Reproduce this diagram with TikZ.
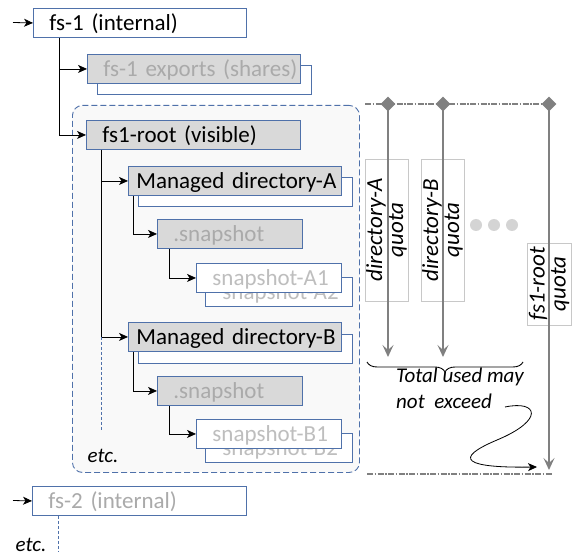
\documentclass[tikz,border=0pt]{standalone}
\usepackage{fontspec}
\setmainfont{Carlito}
\usetikzlibrary{arrows.meta,shapes.geometric,decorations.pathreplacing,calc}
\definecolor{boxblue}{RGB}{79,113,170}
\definecolor{boxgray}{RGB}{217,217,217}
\definecolor{txtgray}{RGB}{170,170,170}
\definecolor{txtlight}{RGB}{190,190,190}
\definecolor{qgray}{RGB}{128,128,128}
\definecolor{qborder}{RGB}{200,200,200}
\definecolor{contfill}{RGB}{249,249,249}
\definecolor{dotgray}{RGB}{212,212,212}
\begin{document}
\begin{tikzpicture}[x=1pt,y=-1pt,
  tbox/.style={draw=boxblue, line width=0.9pt, anchor=north west, minimum height=29pt,
    inner xsep=16pt, inner ysep=0pt, text height=16pt, text depth=0pt, align=left,
    font=\fontsize{23}{27}\selectfont},
  shadowbox/.style={tbox, fill=white},
  conn/.style={draw=black, line width=0.8pt, -{Stealth[length=9pt,width=8pt,inset=2.5pt]}},
  bluedash/.style={draw=boxblue, line width=0.8pt, dash pattern=on 3pt off 2pt},
  dd/.style={draw=qgray, line width=1.2pt, dash pattern=on 6pt off 1.5pt on 1.5pt off 1.5pt},
  qarr/.style={draw=qgray, line width=1.4pt, -{Stealth[length=12pt,width=11pt,inset=5pt]}},
  dia/.style={diamond, fill=qgray, minimum size=15pt, inner sep=0pt},
  qbox/.style={draw=qborder, line width=0.8pt, rotate=90, align=center, inner sep=0pt,
    font=\fontsize{23}{21}\selectfont\itshape},
  dotn/.style={circle, fill=dotgray, minimum size=12pt, inner sep=0pt},
  etcn/.style={inner sep=0pt, font=\fontsize{21}{25}\selectfont\itshape}
]
\useasboundingbox (0,0) rectangle (576,556);

% container
\node[draw=boxblue, line width=0.9pt, dash pattern=on 6pt off 3pt, rounded corners=10pt,
  fill=contfill, anchor=north west, minimum width=287pt, minimum height=367pt, inner sep=0pt]
  (cont) at (72,105) {};

% boxes
\node[tbox, text width=181pt] (fs1) at (33,8) {fs-1 (internal)};
\node[shadowbox, text width=182pt] (expS) at (97,65) {};
\node[tbox, fill=boxgray, text=txtgray, text width=181pt] (exp) at (87,54) {\mbox{fs-1 exports (shares)}};
\node[tbox, fill=boxgray, text width=182pt] (root) at (86,120) {fs1-root (visible)};

\node[shadowbox, text width=182pt] (mAS) at (138,177) {};
\node[tbox, fill=boxgray, inner xsep=8pt, text width=197pt] (mA) at (128,166) {\mbox{Managed directory-A}};
\node[tbox, fill=boxgray, text=txtgray, text width=113pt] (snapA) at (157,219) {.snapshot};
\node[shadowbox, text=txtlight, inner xsep=17pt, text width=113pt] (A2) at (205,277) {\mbox{snapshot-A2}};
\node[tbox, fill=white, text=txtlight, text width=113pt] (A1) at (196,263) {\mbox{snapshot-A1}};

\node[shadowbox, text width=182pt] (mBS) at (138,334) {};
\node[tbox, fill=boxgray, inner xsep=8pt, text width=197pt] (mB) at (128,322) {\mbox{Managed directory-B}};
\node[tbox, fill=boxgray, text=txtgray, text width=113pt] (snapB) at (157,376) {.snapshot};
\node[shadowbox, text=txtlight, inner xsep=17pt, text width=113pt] (B2) at (205,433) {\mbox{snapshot-B2}};
\node[tbox, fill=white, text=txtlight, text width=113pt] (B1) at (196,419) {\mbox{snapshot-B1}};

\node[tbox, fill=white, text=txtgray, text width=182pt] (fs2) at (32,486) {fs-2 (internal)};

\node[etcn] (etc1) at (103,456) {etc.};
\node[etcn] (etc2) at (31,545) {etc.};

% tree connectors
\coordinate (in1) at (13,22.5);
\coordinate (in2) at (13,500.5);
\draw[conn] (in1) -- (fs1.west);
\draw[conn] (in2) -- (fs2.west);
\draw[conn] ([xshift=26pt]fs1.south west) |- (exp.west);
\draw[conn] ([xshift=26pt]fs1.south west) |- (root.west);
\draw[conn] ([xshift=15pt]root.south west) |- (mA.west);
\draw[conn] ([xshift=15pt]root.south west) |- (mB.west);
\coordinate (rootend) at (101,431);
\draw[bluedash] (mB.west -| rootend) -- (rootend);
\draw[conn] ([xshift=5pt]mA.south west) |- (snapA.west);
\draw[conn] ([xshift=12pt]snapA.south west) |- (A1.west);
\draw[conn] ([xshift=5pt]mB.south west) |- (snapB.west);
\draw[conn] ([xshift=12pt]snapB.south west) |- (B1.west);
\coordinate (fs2end) at (58,552);
\draw[bluedash] (fs2.south -| fs2end) -- (fs2end);

% quota labels
\node[qbox, minimum width=142pt, minimum height=43pt] (qA) at (386.5,230) {directory-A\\quota};
\node[qbox, minimum width=142pt, minimum height=43pt] (qB) at (442.5,230) {directory-B\\quota};
\node[qbox, minimum width=82pt, minimum height=44pt] (qR) at (549,284) {fs1-root\\quota};

\node[dotn] (o1) at (476,225) {};
\node[dotn] (o2) at (494,225) {};
\node[dotn] (o3) at (512,225) {};

% dash-dot lines and diamonds
\coordinate (tl1) at (365,104);
\coordinate (tl2) at (553,104);
\draw[dd] (tl1) -- (tl2);
\coordinate (bl1) at (367,474);
\coordinate (bl2) at (552,474);
\draw[dd] (bl1) -- (bl2);
\coordinate (eA) at (388,357);
\coordinate (eB) at (443,357);
\coordinate (eR) at (549,470);
\draw[qarr] (388,104) -- (eA);
\draw[qarr] (443,104) -- (eB);
\draw[qarr] (549,104) -- (eR);
\node[dia] (dA) at (388,104) {};
\node[dia] (dB) at (443,104) {};
\node[dia] (dR) at (549,104) {};

% brace and note
\coordinate (br1) at (367,362);
\coordinate (br2) at (523,362);
\draw[line width=0.9pt, decorate, decoration={brace, amplitude=10pt}] (br2) -- (br1);
\node[anchor=north west, align=left, inner sep=0pt, font=\fontsize{21}{26}\selectfont\itshape]
  (tot) at (396,368) {Total used may\\not\ \ exceed};
\coordinate (cs) at (505,407);
\coordinate (ce) at (537,467);
\draw[conn] (cs) .. controls (538,400) and (545,420) .. (497,440)
  .. controls (452,459) and (465,468) .. (ce);
\end{tikzpicture}
\end{document}
